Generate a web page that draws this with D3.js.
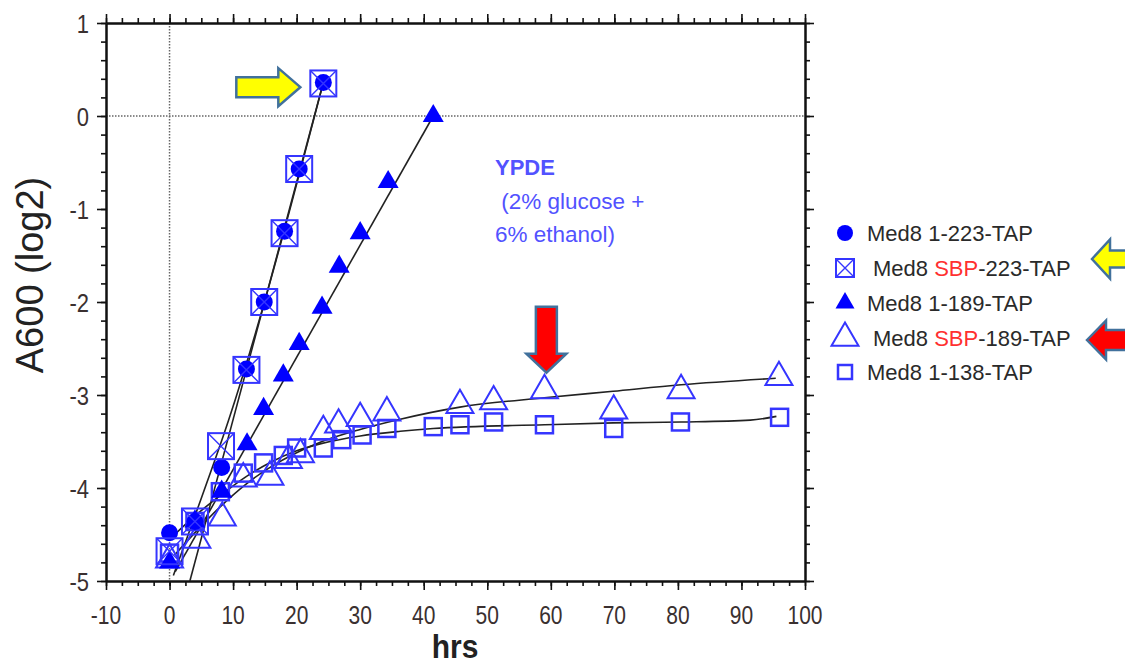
<!DOCTYPE html>
<html><head><meta charset="utf-8">
<script src="https://cdn.jsdelivr.net/npm/d3@7"></script>
<style>html,body{margin:0;padding:0;background:#fff;}svg{display:block;font-family:"Liberation Sans",Arial,sans-serif;}</style>
</head><body>
<svg id="chart" width="1125" height="668"></svg>
<script>
// ---- data ----
const xTicks = [-10,0,10,20,30,40,50,60,70,80,90,100];
const yTicks = [-5,-4,-3,-2,-1,0,1];
const xTickLabels = ["-10","0","10","20","30","40","50","60","70","80","90","100"];
const yTickLabels = ["-5","-4","-3","-2","-1","0","1"];

const med8_1_223 = [[0,-4.48],[4,-4.36],[8.2,-3.78],[12.1,-2.72],[14.9,-2.0],[18.1,-1.24],[20.4,-0.57],[24.2,0.36]];
const med8_SBP_223 = [[0,-4.68],[4,-4.36],[8.1,-3.55],[12.1,-2.73],[14.9,-2.0],[18.1,-1.26],[20.4,-0.57],[24.2,0.35]];
const med8_1_189 = [[0,-4.8],[4,-4.36],[8.2,-4.04],[12.2,-3.53],[14.8,-3.15],[17.9,-2.79],[20.4,-2.45],[24,-2.06],[26.7,-1.62],[30,-1.26],[34.4,-0.71],[41.5,0.0]];
const med8_SBP_189 = [[0,-4.77],[4.3,-4.56],[8.3,-4.32],[11.6,-3.9],[15.8,-3.88],[18.7,-3.7],[20.6,-3.64],[24.2,-3.39],[26.6,-3.32],[30,-3.25],[34.2,-3.19],[45.7,-3.11],[51,-3.07],[59,-2.95],[69.9,-3.17],[80.5,-2.95],[95.9,-2.81]];
const med8_1_138 = [[0,-4.7],[4,-4.36],[8,-4.04],[11.6,-3.84],[14.8,-3.73],[17.9,-3.65],[20,-3.57],[24.2,-3.57],[27.1,-3.48],[30.3,-3.43],[34.2,-3.36],[41.5,-3.34],[45.7,-3.32],[51,-3.29],[59,-3.32],[69.9,-3.36],[80.4,-3.29],[96,-3.24]];

// fitted lines
const fitSteepA = [[3.2,-5.0],[24.2,0.36]];
const fitSteepB = [[0.6,-4.94],[4,-4.3],[9.3,-3.27],[24.2,0.36]];
const fitTri = [[0.9,-4.9],[41.5,0.0]];
const fitOpenTri = [[0.8,-4.72],[4,-4.48],[8,-4.2],[12,-3.96],[16,-3.77],[20,-3.62],[24,-3.5],[30,-3.37],[36.3,-3.26],[45.7,-3.13],[59,-3.03],[69.8,-2.96],[80.5,-2.89],[95.4,-2.82]];
const fitSquare = [[0.8,-4.5],[4,-4.3],[8,-4.08],[12,-3.88],[16,-3.72],[20,-3.6],[24,-3.52],[30,-3.44],[36.3,-3.39],[41.5,-3.36],[59,-3.32],[69.8,-3.3],[80.5,-3.29],[91.4,-3.27],[95.5,-3.23]];

const legendPre = ["Med8 1-223-TAP","Med8 ","Med8 1-189-TAP","Med8 ","Med8 1-138-TAP"];
const legendRed = ["","SBP","","SBP",""];
const legendPost = ["","-223-TAP","","-189-TAP",""];
const legendShapes = ["circle","squareX","tri","openTri","square"];

const noteLines = ["YPDE"," (2% glucose +","6% ethanol)"];
const yellowArrowTip = [20.5,0.31];
const redArrowTip = [59.3,-2.76];

// ---- drawing ----
const svg = d3.select("#chart");
const L=106,R=805,T=23,B=581;
const x = d3.scaleLinear().domain([-10,100]).range([L,R]);
const y = d3.scaleLinear().domain([-5,1]).range([B,T]);

const blue="#0000ff", openBlue="#3535ff";

// reference dotted lines
svg.append("line").attr("x1",x(0)).attr("x2",x(0)).attr("y1",T).attr("y2",B)
  .attr("stroke","#666").attr("stroke-width",1.5).attr("stroke-dasharray","1.5,1.5");
svg.append("line").attr("x1",L).attr("x2",R).attr("y1",y(0)).attr("y2",y(0))
  .attr("stroke","#666").attr("stroke-width",1.5).attr("stroke-dasharray","1.5,1.5");

// axes
const xMinor = d3.range(-10,100.01,2.5);
const yMinor = d3.range(-5,1.001,0.2);
function styleAxis(g){g.selectAll("path").attr("stroke","#111").attr("stroke-width",2);
  g.selectAll("line").attr("stroke","#111").attr("stroke-width",1.6);g.selectAll("text").remove();}
svg.append("g").attr("transform",`translate(0,${B})`).call(d3.axisBottom(x).tickValues(xMinor).tickSize(5).tickSizeOuter(0).tickFormat("")).call(styleAxis);
svg.append("g").attr("transform",`translate(0,${B})`).call(d3.axisBottom(x).tickValues(xTicks).tickSize(9).tickSizeOuter(0).tickFormat("")).call(styleAxis);
svg.append("g").attr("transform",`translate(0,${T})`).call(d3.axisTop(x).tickValues(xMinor).tickSize(5).tickSizeOuter(0).tickFormat("")).call(styleAxis);
svg.append("g").attr("transform",`translate(0,${T})`).call(d3.axisTop(x).tickValues(xTicks).tickSize(9).tickSizeOuter(0).tickFormat("")).call(styleAxis);
svg.append("g").attr("transform",`translate(${L},0)`).call(d3.axisLeft(y).tickValues(yMinor).tickSize(5).tickSizeOuter(0).tickFormat("")).call(styleAxis);
svg.append("g").attr("transform",`translate(${L},0)`).call(d3.axisLeft(y).tickValues(yTicks).tickSize(9).tickSizeOuter(0).tickFormat("")).call(styleAxis);
svg.append("g").attr("transform",`translate(${R},0)`).call(d3.axisRight(y).tickValues(yMinor).tickSize(5).tickSizeOuter(0).tickFormat("")).call(styleAxis);
svg.append("g").attr("transform",`translate(${R},0)`).call(d3.axisRight(y).tickValues(yTicks).tickSize(9).tickSizeOuter(0).tickFormat("")).call(styleAxis);

// tick labels
xTicks.forEach((v,i)=>{
  svg.append("text").attr("transform",`translate(${x(v)},${B+43}) scale(1,1.25)`)
    .attr("text-anchor","middle").attr("font-size",21).attr("fill","#3a3030").text(xTickLabels[i]);
});
yTicks.forEach((v,i)=>{
  svg.append("text").attr("transform",`translate(89,${y(v)+9.5}) scale(1,1.2)`)
    .attr("text-anchor","end").attr("font-size",22).attr("fill","#3a3030").text(yTickLabels[i]);
});
// axis titles
svg.append("text").attr("transform","translate(43,275) rotate(-90)").attr("text-anchor","middle")
  .attr("font-size",38).attr("fill","#222").text("A600 (log2)");
svg.append("text").attr("transform","translate(455,658) scale(1,1.1)").attr("text-anchor","middle")
  .attr("font-size",30).attr("font-weight","bold").attr("fill","#222").text("hrs");

// fit lines
const line = d3.line().x(d=>x(d[0])).y(d=>y(d[1]));
const curve = d3.line().x(d=>x(d[0])).y(d=>y(d[1])).curve(d3.curveMonotoneX);
const lg = svg.append("g").attr("fill","none").attr("stroke","#222").attr("stroke-width",1.6);
lg.append("path").attr("d",line(fitSteepA));
lg.append("path").attr("d",curve(fitSteepB));
lg.append("path").attr("d",line(fitTri));
lg.append("path").attr("d",curve(fitOpenTri));
lg.append("path").attr("d",curve(fitSquare));

// marker shapes
function triPath(w){const h=w*Math.sqrt(3)/2;return `M0,${-2*h/3}L${w/2},${h/3}L${-w/2},${h/3}Z`;}
function drawShape(g,shape,cx,cy,big){
  if(shape==="circle"){g.append("circle").attr("cx",cx).attr("cy",cy).attr("r",big?8.5:8).attr("fill",blue);}
  else if(shape==="squareX"){const a=big?13:9;
    g.append("rect").attr("x",cx-a).attr("y",cy-a).attr("width",2*a).attr("height",2*a).attr("fill","none").attr("stroke",openBlue).attr("stroke-width",2);
    g.append("path").attr("d",`M${cx-a},${cy-a}L${cx+a},${cy+a}M${cx+a},${cy-a}L${cx-a},${cy+a}`).attr("stroke",openBlue).attr("stroke-width",1.4);}
  else if(shape==="tri"){g.append("path").attr("transform",`translate(${cx},${cy})`).attr("d",triPath(big?21:19)).attr("fill",blue);}
  else if(shape==="openTri"){g.append("path").attr("transform",`translate(${cx},${cy})`).attr("d",triPath(27)).attr("fill","none").attr("stroke",openBlue).attr("stroke-width",2);}
  else if(shape==="square"){const a=big?8.5:7;
    g.append("rect").attr("x",cx-a).attr("y",cy-a).attr("width",2*a).attr("height",2*a).attr("fill","none").attr("stroke",openBlue).attr("stroke-width",2.5);}
}
const mg = svg.append("g");
[[med8_1_138,"square"],[med8_SBP_189,"openTri"],[med8_1_189,"tri"],[med8_1_223,"circle"],[med8_SBP_223,"squareX"]]
  .forEach(([data,shape])=>data.forEach(d=>drawShape(mg,shape,x(d[0]),y(d[1]),true)));

// note text
noteLines.forEach((t,i)=>{
  svg.append("text").attr("x",495).attr("y",175+i*33.5).attr("fill","#5252ff")
    .attr("font-size",i===0?22:22.5).attr("font-weight",i===0?"bold":"normal")
    .attr("xml:space","preserve").style("white-space","pre").text(t);
});

// arrows
const arrowStroke="#41719c";
function hArrow(tipX,tipY,len,dir,fill,headL,headH,shaftH){
  const bx=tipX-dir*headL, sx=tipX-dir*len;
  const p=`M${tipX},${tipY}L${bx},${tipY-headH/2}L${bx},${tipY-shaftH/2}L${sx},${tipY-shaftH/2}L${sx},${tipY+shaftH/2}L${bx},${tipY+shaftH/2}L${bx},${tipY+headH/2}Z`;
  svg.append("path").attr("d",p).attr("fill",fill).attr("stroke",arrowStroke).attr("stroke-width",2.5).attr("stroke-linejoin","miter");
}
function vArrow(tipX,tipY,len,fill,headL,headW,shaftW){
  const by=tipY-headL, sy=tipY-len;
  const p=`M${tipX},${tipY}L${tipX-headW/2},${by}L${tipX-shaftW/2},${by}L${tipX-shaftW/2},${sy}L${tipX+shaftW/2},${sy}L${tipX+shaftW/2},${by}L${tipX+headW/2},${by}Z`;
  svg.append("path").attr("d",p).attr("fill",fill).attr("stroke",arrowStroke).attr("stroke-width",2.5);
}
hArrow(x(yellowArrowTip[0])+0.5,y(yellowArrowTip[1]),64,1,"#ffff00",22,38,20);
vArrow(x(redArrowTip[0]),y(redArrowTip[1]),66,"#ff0000",19,40,21);

// legend
const legY=[233,268,303,338,372];
const legTX=[867,873,867,873,867];
const lgd=svg.append("g");
legendShapes.forEach((s,i)=>{
  drawShape(lgd,s,845,legY[i],false);
  const t=lgd.append("text").attr("x",legTX[i]).attr("y",legY[i]+8).attr("font-size",22).attr("fill","#2a2a2a");
  t.append("tspan").text(legendPre[i]).attr("xml:space","preserve");
  if(legendRed[i]){t.append("tspan").attr("fill","#ff3030").text(legendRed[i]);t.append("tspan").text(legendPost[i]);}
});
// legend arrows (yellow for SBP-223, red for SBP-189)
hArrow(1092,259,40,-1,"#ffff00",18,39,17);
hArrow(1087,340,45,-1,"#ff0000",19,39,20);
</script>
</body></html>
